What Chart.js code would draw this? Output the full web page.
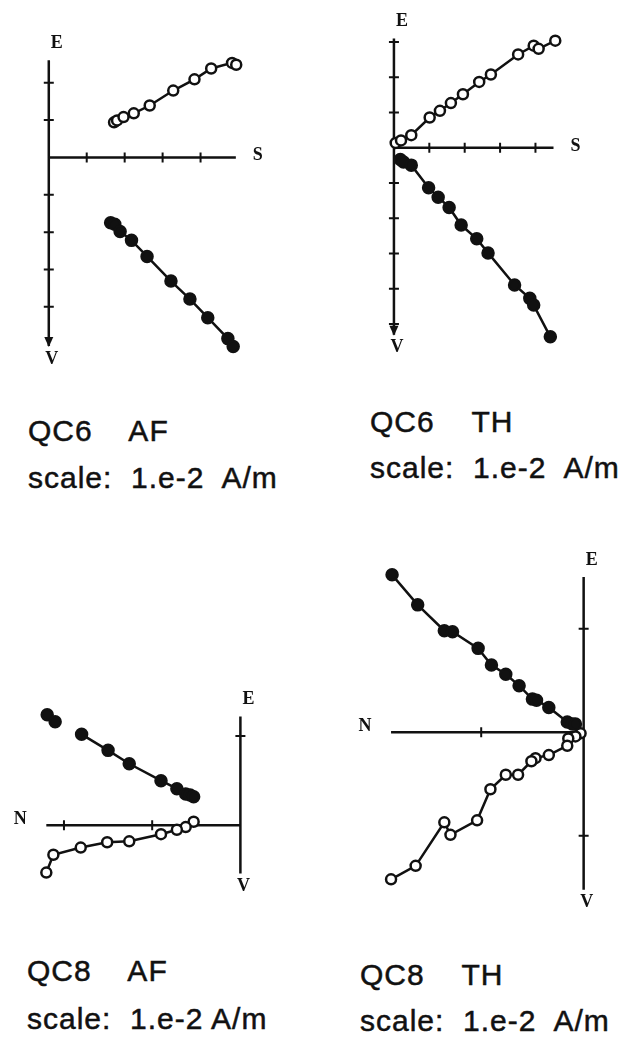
<!DOCTYPE html>
<html>
<head>
<meta charset="utf-8">
<title>QC6 / QC8 demagnetisation</title>
<script src="https://cdn.jsdelivr.net/npm/chart.js@4.4.0/dist/chart.umd.min.js"></script>
<style>
  body { margin: 0; background: #fff; width: 622px; height: 1038px; position: relative; overflow: hidden; }
  canvas { position: absolute; }
  .cap { position: absolute; font-family: "Liberation Sans", Arial, sans-serif; font-size: 30px; line-height: 30px; letter-spacing: 1px; white-space: pre; color: #111; -webkit-text-stroke: 0.5px #111; }
</style>
</head>
<body>
<canvas id="qc6af" width="311" height="380" style="left:0;top:0"></canvas>
<canvas id="qc6th" width="311" height="380" style="left:311px;top:0"></canvas>
<canvas id="qc8af" width="311" height="390" style="left:0;top:520px"></canvas>
<canvas id="qc8th" width="311" height="390" style="left:311px;top:520px"></canvas>

<div class="cap" style="left:28px;top:416px">QC6    AF</div>
<div class="cap" style="left:28px;top:463px">scale:  1.e-2  A/m</div>
<div class="cap" style="left:370px;top:407px">QC6    TH</div>
<div class="cap" style="left:370px;top:453px">scale:  1.e-2  A/m</div>
<div class="cap" style="left:27px;top:956px">QC8    AF</div>
<div class="cap" style="left:27px;top:1004px">scale:  1.e-2 A/m</div>
<div class="cap" style="left:360px;top:960px">QC8    TH</div>
<div class="cap" style="left:360px;top:1006px">scale:  1.e-2  A/m</div>

<script>
// QC6 AF - open = horizontal projection (E), solid = vertical (V)
const qc6afOpenX  = [1.72, 1.80, 1.97, 2.24, 2.66, 3.28, 3.84, 4.28, 4.83, 4.94];
const qc6afOpenY  = [0.94, 0.99, 1.08, 1.18, 1.39, 1.79, 2.09, 2.38, 2.53, 2.48];
const qc6afSolidX = [1.63, 1.74, 1.88, 2.18, 2.59, 3.22, 3.72, 4.19, 4.72, 4.86];
const qc6afSolidY = [-1.75, -1.79, -1.98, -2.22, -2.65, -3.31, -3.79, -4.29, -4.85, -5.06];

// QC6 TH
const qc6thOpenX  = [0.05, 0.20, 0.49, 1.01, 1.30, 1.61, 1.95, 2.41, 2.74, 3.51, 3.95, 4.09, 4.56];
const qc6thOpenY  = [0.14, 0.21, 0.36, 0.86, 1.05, 1.27, 1.52, 1.87, 2.08, 2.65, 2.90, 2.81, 3.04];
const qc6thSolidX = [0.18, 0.27, 0.49, 0.98, 1.25, 1.56, 1.90, 2.34, 2.66, 3.41, 3.84, 3.95, 4.42];
const qc6thSolidY = [-0.33, -0.40, -0.49, -1.13, -1.40, -1.69, -2.19, -2.58, -2.98, -3.89, -4.27, -4.46, -5.36];

// QC8 AF (first two solid points are not joined)
const qc8afLooseX = [-2.19, -2.10];
const qc8afLooseY = [1.24, 1.16];
const qc8afSolidX = [-1.80, -1.50, -1.26, -0.90, -0.72, -0.62, -0.57, -0.53];
const qc8afSolidY = [1.02, 0.84, 0.69, 0.50, 0.41, 0.35, 0.34, 0.32];
const qc8afOpenX  = [-0.53, -0.62, -0.72, -0.90, -1.26, -1.51, -1.81, -2.12, -2.20];
const qc8afOpenY  = [0.04, -0.02, -0.05, -0.10, -0.18, -0.19, -0.25, -0.33, -0.53];

// QC8 TH
const qc8thSolidX = [-1.87, -1.62, -1.36, -1.28, -1.03, -0.90, -0.76, -0.63, -0.50, -0.46, -0.34, -0.16, -0.11, -0.08];
const qc8thSolidY = [1.52, 1.23, 0.98, 0.97, 0.81, 0.65, 0.56, 0.45, 0.32, 0.31, 0.24, 0.10, 0.08, 0.08];
const qc8thOpenX  = [-0.03, -0.08, -0.15, -0.16, -0.34, -0.47, -0.51, -0.64, -0.76, -0.91, -1.04, -1.30, -1.36, -1.64, -1.88];
const qc8thOpenY  = [-0.01, -0.04, -0.06, -0.13, -0.22, -0.25, -0.28, -0.41, -0.41, -0.55, -0.85, -0.99, -0.87, -1.29, -1.42];

// axis extents and tick marks, in units of 1.e-2 A/m
const qc6afAxisX = [0, 4.93], qc6afTicksX = [1, 2, 3, 4];
const qc6afAxisY = [-5.05, 2.6], qc6afTicksY = [-4, -3, -2, -1, 1, 2];
const qc6thAxisX = [0, 4.51], qc6thTicksX = [1, 2, 3, 4];
const qc6thAxisY = [-5.3, 3.1], qc6thTicksY = [-5, -4, -3, -2, -1, 1, 2, 3];
const qc8afAxisX = [-2.2, 0], qc8afTicksX = [-2, -1];
const qc8afAxisY = [-0.54, 1.22], qc8afTicksY = [1];
const qc8thAxisX = [-1.88, 0], qc8thTicksX = [-1];
const qc8thAxisY = [-1.52, 1.5], qc8thTicksY = [-1, 1];

const ink = '#111';

function pts(xs, ys) {
    return xs.map((x, i) => ({ x: x, y: ys[i] }));
}

// draws the cross axes through the origin, ticks, arrow and letters
const zijAxes = {
    id: 'zijAxes',
    beforeDatasetsDraw(chart, args, o) {
        const ctx = chart.ctx;
        const xs = chart.scales.x, ys = chart.scales.y;
        const x0 = xs.getPixelForValue(0), y0 = ys.getPixelForValue(0);
        const xl = xs.getPixelForValue(o.axisX[0]), xr = xs.getPixelForValue(o.axisX[1]);
        const yb = ys.getPixelForValue(o.axisY[0]), yt = ys.getPixelForValue(o.axisY[1]);
        ctx.save();
        ctx.strokeStyle = ink;
        ctx.lineWidth = 2.5;
        ctx.beginPath();
        ctx.moveTo(xl, y0); ctx.lineTo(xr, y0);
        ctx.moveTo(x0, yt); ctx.lineTo(x0, yb);
        ctx.stroke();

        ctx.lineWidth = 2;
        ctx.beginPath();
        o.ticksX.forEach(v => {
            const p = xs.getPixelForValue(v);
            ctx.moveTo(p, y0 - 5); ctx.lineTo(p, y0 + 5);
        });
        o.ticksY.forEach(v => {
            const p = ys.getPixelForValue(v);
            ctx.moveTo(x0 - 5, p); ctx.lineTo(x0 + 5, p);
        });
        ctx.stroke();

        if (o.arrow) {
            ctx.fillStyle = ink;
            ctx.beginPath();
            ctx.moveTo(x0 - 4.5, yb - 9);
            ctx.lineTo(x0, yb + 1);
            ctx.lineTo(x0 + 4.5, yb - 9);
            ctx.closePath();
            ctx.fill();
        }

        ctx.fillStyle = ink;
        ctx.font = 'bold 18px "Liberation Serif", "DejaVu Serif", serif';
        ctx.textAlign = 'center';
        ctx.textBaseline = 'middle';
        ctx.fillText('E', x0 + 8, yt - 17);
        ctx.fillText('V', x0 + 3, yb + 13);
        if (o.right) ctx.fillText(o.right, xr + 22, y0 - 2);
        if (o.left) ctx.fillText(o.left, xl - 26, y0 - 6);
        ctx.restore();
    }
};

function makePanel(id, box, origin, unit, axes, sets) {
    const ctx = document.getElementById(id).getContext('2d');
    const datasets = sets.map(s => ({
        data: s.data,
        showLine: s.line,
        borderColor: ink,
        borderWidth: 2.5,
        tension: 0,
        pointRadius: s.filled ? 5.5 : 5,
        pointBorderWidth: 2.5,
        pointBorderColor: ink,
        pointBackgroundColor: s.filled ? ink : '#fff',
        pointHoverRadius: 5
    }));
    return new Chart(ctx, {
        type: 'scatter',
        data: { datasets: datasets },
        options: {
            responsive: false,
            animation: false,
            layout: { padding: 0 },
            plugins: {
                legend: { display: false },
                tooltip: { enabled: false },
                zijAxes: axes
            },
            scales: {
                x: {
                    display: false,
                    min: -origin[0] / unit[0],
                    max: (box[0] - origin[0]) / unit[0]
                },
                y: {
                    display: false,
                    min: -(box[1] - origin[1]) / unit[1],
                    max: origin[1] / unit[1]
                }
            }
        },
        plugins: [zijAxes]
    });
}

document.addEventListener('DOMContentLoaded', function() {
    makePanel('qc6af', [311, 380], [43, 156], [40, 39],
        { axisX: qc6afAxisX, ticksX: qc6afTicksX, axisY: qc6afAxisY, ticksY: qc6afTicksY, arrow: true, right: 'S' },
        [
            { data: pts(qc6afOpenX, qc6afOpenY), line: true, filled: false },
            { data: pts(qc6afSolidX, qc6afSolidY), line: true, filled: true }
        ]);

    makePanel('qc6th', [311, 380], [79, 146], [37.3, 36.8],
        { axisX: qc6thAxisX, ticksX: qc6thTicksX, axisY: qc6thAxisY, ticksY: qc6thTicksY, arrow: true, right: 'S' },
        [
            { data: pts(qc6thOpenX, qc6thOpenY), line: true, filled: false },
            { data: pts(qc6thSolidX, qc6thSolidY), line: true, filled: true }
        ]);

    makePanel('qc8af', [311, 390], [245, 310], [93, 93],
        { axisX: qc8afAxisX, ticksX: qc8afTicksX, axisY: qc8afAxisY, ticksY: qc8afTicksY, arrow: false, left: 'N' },
        [
            { data: pts(qc8afLooseX, qc8afLooseY), line: false, filled: true },
            { data: pts(qc8afSolidX, qc8afSolidY), line: true, filled: true },
            { data: pts(qc8afOpenX, qc8afOpenY), line: true, filled: false }
        ]);

    makePanel('qc8th', [311, 390], [279, 213], [108, 108],
        { axisX: qc8thAxisX, ticksX: qc8thTicksX, axisY: qc8thAxisY, ticksY: qc8thTicksY, arrow: false, left: 'N' },
        [
            { data: pts(qc8thSolidX, qc8thSolidY), line: true, filled: true },
            { data: pts(qc8thOpenX, qc8thOpenY), line: true, filled: false }
        ]);
});
</script>
</body>
</html>
